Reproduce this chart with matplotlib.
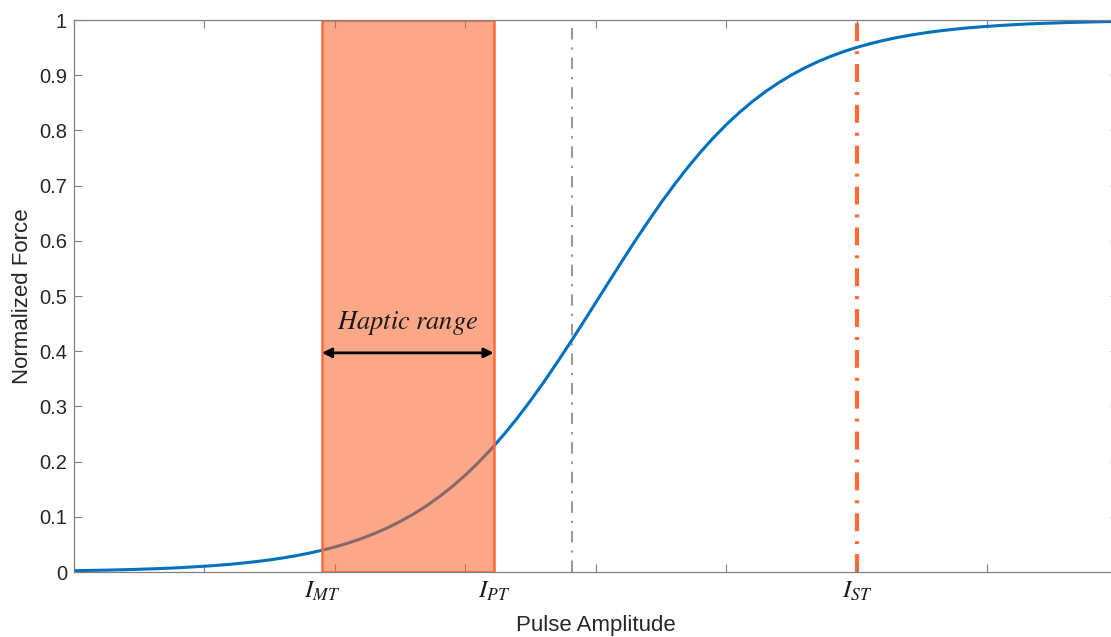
import matplotlib
matplotlib.use("Agg")
import matplotlib.pyplot as plt
from matplotlib.patches import Rectangle

plt.rcParams['font.family'] = ['Liberation Sans', 'DejaVu Sans']
plt.rcParams['mathtext.fontset'] = 'stix'

# Courbe force normalisée (valeurs lues sur la figure, pas de 0.1)
amp = [round(0.1 * i, 1) for i in range(81)]
force = [0.0024, 0.0028, 0.0032, 0.0037, 0.0043, 0.0050, 0.0058, 0.0067, 0.0078, 0.0091,
         0.0105, 0.0122, 0.0141, 0.0164, 0.0190, 0.0220, 0.0255, 0.0295, 0.0341, 0.0394,
         0.0454, 0.0524, 0.0604, 0.0695, 0.0798, 0.0916, 0.1048, 0.1197, 0.1365, 0.1551,
         0.1758, 0.1986, 0.2236, 0.2507, 0.2799, 0.3111, 0.3441, 0.3788, 0.4146, 0.4514,
         0.4888, 0.5262, 0.5634, 0.5999, 0.6353, 0.6693, 0.7016, 0.7320, 0.7604, 0.7867,
         0.8108, 0.8327, 0.8526, 0.8705, 0.8864, 0.9007, 0.9133, 0.9245, 0.9343, 0.9430,
         0.9505, 0.9571, 0.9628, 0.9679, 0.9722, 0.9760, 0.9793, 0.9821, 0.9846, 0.9867,
         0.9885, 0.9901, 0.9915, 0.9927, 0.9937, 0.9945, 0.9953, 0.9959, 0.9965, 0.9970,
         0.9974]

# Seuils
I_MT = 1.9
I_PT = 3.216
I_mid = 3.815
I_ST = 6.0
seuil_labels = ['$I_{MT}$', '$I_{PT}$', '$I_{ST}$']

y_ticks = [0, 0.1, 0.2, 0.3, 0.4, 0.5, 0.6, 0.7, 0.8, 0.9, 1]
y_labels = ['0', '0.1', '0.2', '0.3', '0.4', '0.5', '0.6', '0.7', '0.8', '0.9', '1']

orange = '#FF6A36'
fig = plt.figure(figsize=(11.11, 6.37), dpi=100)
ax = fig.add_axes([0.0666, 0.102, 0.9397, 0.8666])

ax.plot([I_mid, I_mid], [0, 1], color='#9a9a9a', lw=1.5,
        linestyle=(0, (5.5, 3.8, 1.1, 3.8)), zorder=1)
ax.plot([I_ST, I_ST], [0, 1], color=orange, lw=3,
        linestyle=(0, (4.3, 2.4, 0.7, 2.4)), zorder=1)
ax.plot(amp, force, color='#0072BD', lw=2.2, zorder=2)

rect = Rectangle((I_MT, 0), I_PT - I_MT, 1, facecolor=(0.98, 0.38, 0.15, 0.55),
                 edgecolor=orange, lw=1.8, zorder=2.2)
ax.add_patch(rect)

ax.annotate('', xy=(I_MT, 0.397), xytext=(I_PT, 0.397),
            arrowprops=dict(arrowstyle='<|-|>', color='black', lw=2,
                            mutation_scale=14, shrinkA=0, shrinkB=0), zorder=4)
ax.text((I_MT + I_PT) / 2, 0.452, r'$\mathit{Haptic\ range}$', fontsize=19,
        ha='center', va='center', color='#1a1a1a', zorder=4)

ax.set_xlim(0, 8)
ax.set_ylim(0, 1)
ax.xaxis.remove_overlapping_locs = False
ax.set_xticks(range(9))
ax.set_xticklabels([])
ax.set_xticks([I_MT, I_PT, I_ST], minor=True)
ax.set_xticklabels(seuil_labels, minor=True, fontsize=18, color='#1a1a1a')
ax.tick_params(axis='x', which='minor', length=0, pad=5)
ax.set_yticks(y_ticks)
ax.set_yticklabels(y_labels, fontsize=14.5, color='#262626')
ax.tick_params(which='major', direction='in', length=5.5, width=0.8,
               color='#808080', top=True, right=True)
ax.tick_params(axis='y', pad=5)
for s in ax.spines.values():
    s.set_color('#808080')
    s.set_linewidth(0.9)

ax.set_xlabel('Pulse Amplitude', fontsize=16, color='#262626', labelpad=9)
ax.set_ylabel('Normalized Force', fontsize=16, color='#262626', labelpad=4)

fig.savefig('out.png', dpi=100)
